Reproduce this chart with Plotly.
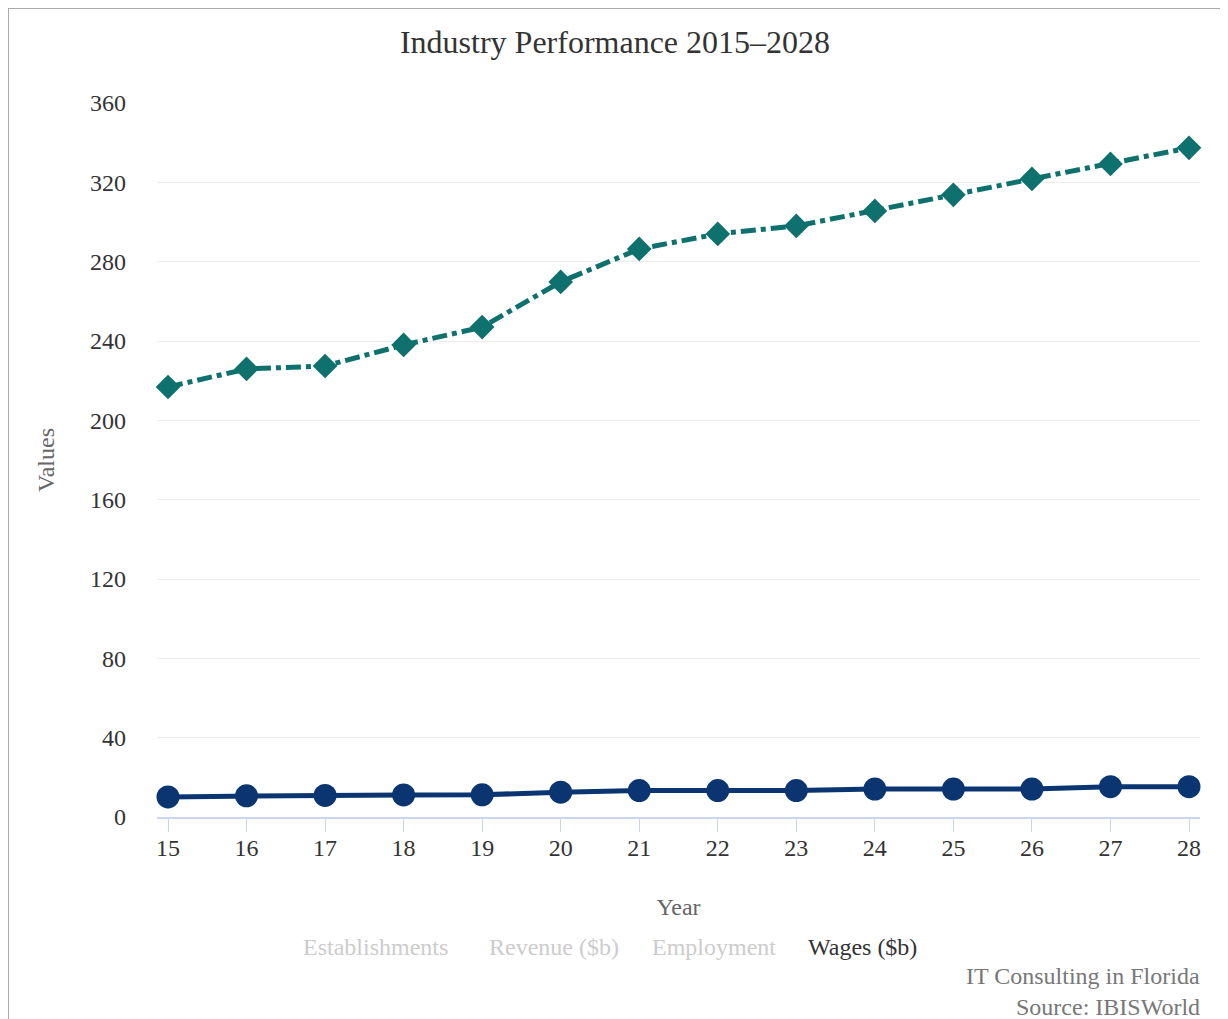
import plotly.graph_objects as go

# ---- data ----
years = [15, 16, 17, 18, 19, 20, 21, 22, 23, 24, 25, 26, 27, 28]
revenue_b = [216.8, 225.9, 227.4, 238.0, 247.0, 269.8, 286.4, 294.0, 298.0, 305.6, 313.7, 321.7, 329.3, 337.4]
wages_b = [10.1, 10.7, 10.9, 11.1, 11.2, 12.5, 13.3, 13.3, 13.3, 14.1, 14.1, 14.1, 15.3, 15.3]
y_ticks = [0, 40, 80, 120, 160, 200, 240, 280, 320, 360]
legend_names = ["Establishments", "Revenue ($b)", "Employment", "Wages ($b)"]
legend_active = [False, False, False, True]

W, H = 1228, 1019
L, R, T, B = 149, 36, 95, 210
PW, PH = W - L - R, H - T - B
FONT = "Liberation Serif, Times New Roman, serif"


def px(x):
    return (x - L) / PW


def py(y):
    return (H - B - y) / PH


fig = go.Figure()
fig.add_trace(go.Scatter(
    x=years, y=revenue_b, mode="lines+markers", name="Revenue ($b)",
    line=dict(color="#0e716d", width=5, dash="dashdot"),
    marker=dict(symbol="diamond", size=19, color="#0e716d"),
    showlegend=False, cliponaxis=False,
))
fig.add_trace(go.Scatter(
    x=years, y=wages_b, mode="lines+markers", name="Wages ($b)",
    line=dict(color="#0a3570", width=5),
    marker=dict(symbol="circle", size=23, color="#0a3570"),
    showlegend=False, cliponaxis=False,
))

fig.update_layout(
    width=W, height=H,
    margin=dict(l=L, r=R, t=T, b=B),
    paper_bgcolor="white", plot_bgcolor="white",
    font=dict(family=FONT, size=24, color="#333333"),
    title=dict(text="Industry Performance 2015\u20132028", x=607 / W, xref="container",
               xanchor="center", y=1 - 34 / H, yref="container", yanchor="middle",
               font=dict(family=FONT, size=32, color="#333333")),
    showlegend=False,
)

fig.update_xaxes(
    range=[14.86, 28.14], tickvals=years, ticktext=[str(y) for y in years],
    showgrid=False, zeroline=False,
    showline=True, linecolor="#ccd6eb", linewidth=2,
    ticks="outside", ticklen=7, tickcolor="#ccd6eb", tickwidth=1,
    ticklabelstandoff=1,
    minor=dict(tickvals=years, ticks="outside", ticklen=13, tickcolor="#ccd6eb",
               tickwidth=1, showgrid=False),
    tickfont=dict(family=FONT, size=24, color="#333333"),
    title=dict(text="Year", font=dict(family=FONT, size=24, color="#666666"), standoff=38),
)
fig.update_yaxes(
    range=[0, 360], tickvals=y_ticks, ticktext=[str(v) for v in y_ticks],
    showgrid=True, gridcolor="#ececec", gridwidth=1, zeroline=False,
    showline=False, ticks="", ticklabelstandoff=30,
    tickfont=dict(family=FONT, size=24, color="#333333"),
    title=dict(text="Values", font=dict(family=FONT, size=24, color="#666666"), standoff=28),
)

# legend entries (text only, hidden series greyed out)
legend_x_px = [367, 546, 706, 854]
for name, active, xp in zip(legend_names, legend_active, legend_x_px):
    fig.add_annotation(
        text=name, x=px(xp), y=py(939), xref="paper", yref="paper",
        xanchor="center", yanchor="middle", showarrow=False,
        font=dict(family=FONT, size=24, color="#333333" if active else "#cccccc"),
    )

# credits
for txt, yp in [("IT Consulting in Florida", 968), ("Source: IBISWorld", 999)]:
    fig.add_annotation(
        text=txt, x=px(1194), y=py(yp), xref="paper", yref="paper",
        xanchor="right", yanchor="middle", showarrow=False,
        font=dict(family=FONT, size=24, color="#777777"),
    )

# page border
fig.add_shape(type="rect", xref="paper", yref="paper",
              x0=px(0), x1=px(1214), y0=py(1040), y1=py(0),
              line=dict(color="#aaaaaa", width=2), fillcolor="rgba(0,0,0,0)", layer="below")

fig.write_html("out.html")
